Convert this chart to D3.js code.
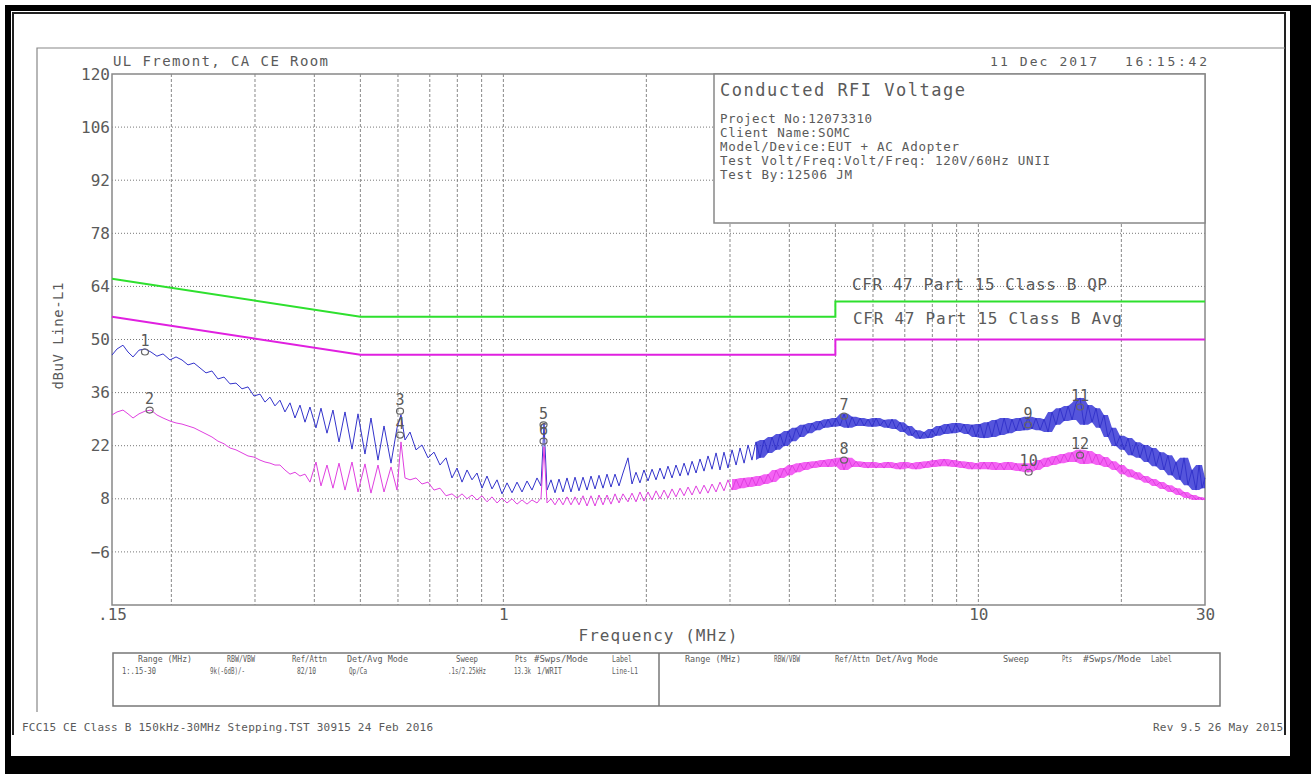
<!DOCTYPE html>
<html>
<head>
<meta charset="utf-8">
<script src="https://cdn.jsdelivr.net/npm/d3@7"></script>
<style>
  body { margin: 0; background: #fff; }
  svg text { font-family: "DejaVu Sans Mono", monospace; fill: #5a5a5a; }
</style>
</head>
<body>
<svg width="1311" height="774"></svg>
<script>
// ---- axis values ----
const yTicks   = [120, 106, 92, 78, 64, 50, 36, 22, 8, -6];
const gridDb   = [106, 92, 78, 64, 50, 36, 22, 8, -6];
const gridFreq = [0.2, 0.3, 0.4, 0.5, 0.6, 0.7, 0.8, 0.9, 1, 2, 3, 4, 5, 6, 7, 8, 9, 10, 20];
const xTickFreq  = [0.15, 1, 10, 30];
const xTickLabel = [".15", "1", "10", "30"];

// ---- limit lines (MHz, dBuV) ----
const qpLimit  = [[0.15, 66], [0.5, 56], [5, 56], [5, 60], [30, 60]];
const avgLimit = [[0.15, 56], [0.5, 46], [5, 46], [5, 50], [30, 50]];

const peakTrace = [
  [0.150,45.9],[0.1537,47.5],[0.1582,48.5],[0.1621,46.7],[0.1661,45.4],[0.1710,47.2],[0.1760,47.5],[0.1812,46.7],
  [0.1865,45.6],[0.1921,46.2],[0.1987,44.6],[0.2046,45.4],[0.2106,44.6],[0.2168,43.3],[0.2232,43.8],[0.2298,42.5],
  [0.2366,41.2],[0.2435,41.7],[0.2507,39.6],[0.2582,40.1],[0.2658,38.3],[0.2736,38.5],[0.2817,37.0],[0.2900,37.5],
  [0.2985,35.1],[0.3074,35.6],[0.3149,33.5],[0.3226,34.8],[0.3305,32.5],[0.3386,34.0],[0.3469,30.9],[0.3555,33.3],
  [0.3642,29.3],[0.3731,32.7],[0.3823,28.2],[0.3916,32.2],[0.4032,26.7],[0.4131,31.9],[0.4253,25.3],[0.4378,31.4],
  [0.4508,23.0],[0.4641,30.9],[0.4801,21.1],[0.4943,30.4],[0.5113,19.8],[0.5264,29.3],[0.5446,18.2],[0.5607,27.2],
  [0.5801,17.4],[0.5972,26.7],[0.6088,30.2],[0.6208,23.5],[0.6360,25.6],[0.6548,20.9],[0.6741,22.2],[0.6940,18.8],
  [0.7145,20.3],[0.7356,16.9],[0.7573,18.8],[0.7796,13.5],[0.7988,16.1],[0.8184,12.4],[0.8385,15.6],[0.8590,13.0],
  [0.8801,14.8],[0.9017,10.8],[0.9238,14.0],[0.9465,10.6],[0.9698,13.0],[0.9935,9.3],[1.0179,12.2],[1.0429,9.6],
  [1.0684,12.4],[1.0947,9.8],[1.1215,12.7],[1.1490,10.3],[1.1772,13.5],[1.2002,11.4],[1.2178,27.8],[1.2356,10.3],
  [1.2598,13.0],[1.2845,9.6],[1.3096,13.2],[1.3353,9.8],[1.3614,13.5],[1.3880,9.8],[1.4152,13.7],[1.4429,10.1],
  [1.4712,13.7],[1.5001,10.3],[1.5294,14.0],[1.5594,10.6],[1.5899,14.2],[1.6210,10.8],[1.6527,14.5],[1.6851,11.1],
  [1.7181,14.5],[1.7518,11.4],[1.7858,14.8],[1.8296,18.8],[1.8656,11.9],[1.9021,15.0],[1.939,12.2],[1.977,15.6],
  [2.016,12.7],[2.056,15.8],[2.096,13.0],[2.137,16.1],[2.179,13.2],[2.221,16.6],[2.265,13.5],[2.309,16.9],
  [2.355,14.0],[2.401,17.4],[2.448,14.2],[2.496,17.9],[2.545,14.8],[2.594,18.5],[2.645,15.3],[2.697,19.3],
  [2.750,15.8],[2.804,20.1],[2.858,15.6],[2.914,20.3],[2.971,16.1],[3.030,20.9],[3.090,16.9],[3.150,21.4],
  [3.212,17.4],[3.275,22.2],[3.337,18.2],[3.403,23.0],[3.470,18.8],[3.538,23.5],[3.607,20.1],[3.678,24.3],
  [3.750,20.9],[3.823,25.1],[3.898,21.9],[3.974,25.9],[4.053,23.2],[4.133,26.7],[4.213,24.3],[4.296,27.5],
  [4.380,25.3],[4.465,28.0],[4.553,26.1],[4.642,28.5],[4.733,26.7],[4.826,29.0],[4.919,27.0],[5.016,29.3],
  [5.115,27.2],[5.215,30.4],[5.317,26.7],[5.421,29.6],[5.528,27.2],[5.636,29.3],[5.746,27.2],[5.859,29.0],
  [5.974,27.0],[6.091,29.3],[6.210,27.2],[6.332,28.8],[6.456,26.7],[6.581,29.0],[6.710,26.4],[6.842,28.2],
  [6.976,25.6],[7.113,27.2],[7.249,24.6],[7.391,26.1],[7.538,23.8],[7.686,25.6],[7.836,24.0],[7.988,26.4],
  [8.145,24.6],[8.306,27.2],[8.469,25.1],[8.634,27.7],[8.800,25.3],[8.973,28.0],[9.151,25.6],[9.330,27.7],
  [9.513,25.1],[9.697,27.5],[9.886,24.3],[10.08,27.7],[10.28,24.0],[10.48,28.2],[10.68,24.3],[10.89,28.8],
  [11.11,24.8],[11.33,29.3],[11.55,25.3],[11.77,29.0],[12.00,25.9],[12.24,29.3],[12.48,26.1],[12.72,29.6],
  [12.97,26.4],[13.22,29.3],[13.49,26.1],[13.75,29.0],[14.02,25.6],[14.29,30.9],[14.57,27.5],[14.86,31.9],
  [15.15,28.5],[15.45,32.5],[15.75,28.8],[16.06,33.3],[16.37,34.6],[16.69,27.5],[17.02,32.7],[17.35,28.2],
  [17.69,31.9],[18.03,26.7],[18.38,30.1],[18.74,24.3],[19.11,26.7],[19.49,21.9],[19.87,24.6],[20.26,20.9],
  [20.66,24.0],[21.06,19.5],[21.48,22.9],[21.89,18.8],[22.32,22.2],[22.76,17.7],[23.21,21.4],[23.67,16.6],
  [24.12,20.3],[24.59,15.6],[25.07,19.5],[25.57,14.2],[26.07,17.7],[26.58,13.0],[27.10,18.8],[27.63,11.6],
  [28.17,15.6],[28.73,10.3],[29.15,16.9],[29.57,10.8],[30.0,13.5]
];

const avgTrace = [
  [0.150,30.1],[0.1537,30.9],[0.1582,31.4],[0.1621,30.4],[0.1661,29.3],[0.1710,30.4],[0.1760,31.1],[0.1812,31.4],
  [0.1865,30.1],[0.1921,29.3],[0.1987,28.5],[0.2046,28.0],[0.2106,27.7],[0.2168,27.2],[0.2232,26.7],[0.2298,25.9],
  [0.2366,25.1],[0.2435,24.3],[0.2507,23.2],[0.2582,22.5],[0.2658,21.4],[0.2736,20.9],[0.2817,20.1],[0.2900,19.3],
  [0.2985,19.0],[0.3074,18.2],[0.3149,17.7],[0.3226,17.4],[0.3305,16.9],[0.3386,16.9],[0.3469,15.6],[0.3555,14.5],
  [0.3642,15.0],[0.3731,14.0],[0.3823,14.5],[0.3916,12.4],[0.4032,17.7],[0.4131,11.4],[0.4253,16.9],[0.4378,10.8],
  [0.4508,17.4],[0.4641,10.3],[0.4801,17.7],[0.4943,9.8],[0.5113,17.2],[0.5264,9.5],[0.5446,16.9],[0.5607,9.8],
  [0.5801,16.4],[0.5972,10.3],[0.6088,23.0],[0.6208,13.5],[0.6360,13.0],[0.6548,13.5],[0.6741,11.9],[0.6940,12.4],
  [0.7145,10.3],[0.7356,10.8],[0.7573,8.8],[0.7796,9.3],[0.7988,8.2],[0.8184,9.3],[0.8385,8.0],[0.8590,9.0],
  [0.8801,7.7],[0.9017,8.8],[0.9238,7.2],[0.9465,8.5],[0.9698,6.9],[0.9935,8.2],[1.0179,6.9],[1.0429,8.0],
  [1.0684,6.6],[1.0947,7.7],[1.1215,6.6],[1.1490,7.7],[1.1772,6.9],[1.2002,8.2],[1.2178,21.7],[1.2356,6.9],
  [1.2598,8.0],[1.2845,6.4],[1.3096,8.2],[1.3353,6.4],[1.3614,8.5],[1.3880,6.4],[1.4152,8.5],[1.4429,6.4],
  [1.4712,8.8],[1.5001,6.1],[1.5294,8.8],[1.5594,6.1],[1.5899,9.0],[1.6210,6.4],[1.6527,9.0],[1.6851,6.6],
  [1.7181,9.3],[1.7518,6.9],[1.7858,9.3],[1.8296,7.2],[1.8656,9.5],[1.9021,7.2],[1.939,9.8],[1.977,7.4],
  [2.016,9.8],[2.056,7.7],[2.096,10.1],[2.137,8.0],[2.179,10.3],[2.221,8.2],[2.265,10.6],[2.309,8.5],
  [2.355,10.8],[2.401,8.8],[2.448,11.1],[2.496,9.0],[2.545,11.4],[2.594,9.3],[2.645,11.6],[2.697,9.5],
  [2.750,11.9],[2.804,9.8],[2.858,12.4],[2.914,10.1],[2.971,13.0],[3.030,10.3],[3.090,13.2],[3.150,10.8],
  [3.212,13.5],[3.275,11.1],[3.337,13.7],[3.403,11.4],[3.470,14.0],[3.538,11.9],[3.607,14.5],[3.678,12.4],
  [3.750,15.6],[3.823,13.5],[3.898,16.1],[3.974,14.2],[4.053,16.9],[4.133,15.0],[4.213,17.4],[4.296,15.6],
  [4.380,17.7],[4.465,16.1],[4.553,17.9],[4.642,16.4],[4.733,18.2],[4.826,16.4],[4.919,18.5],[5.016,16.6],
  [5.115,18.8],[5.215,15.6],[5.317,18.8],[5.421,16.4],[5.528,17.9],[5.636,16.4],[5.746,17.7],[5.859,16.1],
  [5.974,17.7],[6.091,16.1],[6.210,17.4],[6.332,16.1],[6.456,17.7],[6.581,16.1],[6.710,17.4],[6.842,15.8],
  [6.976,17.7],[7.113,16.1],[7.249,17.4],[7.391,15.8],[7.538,17.7],[7.686,16.1],[7.836,17.9],[7.988,16.4],
  [8.145,18.2],[8.306,16.6],[8.469,18.5],[8.634,16.6],[8.800,18.2],[8.973,16.4],[9.151,17.9],[9.330,16.1],
  [9.513,17.7],[9.697,15.8],[9.886,17.4],[10.08,15.8],[10.28,17.7],[10.48,15.8],[10.68,17.7],[10.89,15.6],
  [11.11,17.4],[11.33,15.6],[11.55,17.7],[11.77,15.6],[12.00,17.4],[12.24,15.3],[12.48,17.4],[12.72,15.0],
  [12.97,17.4],[13.22,15.6],[13.49,18.2],[13.75,16.4],[14.02,18.8],[14.29,16.9],[14.57,19.3],[14.86,17.4],
  [15.15,19.8],[15.45,17.7],[15.75,20.3],[16.06,17.7],[16.37,20.9],[16.69,17.2],[17.02,20.6],[17.35,17.4],
  [17.69,19.8],[18.03,16.9],[18.38,19.0],[18.74,16.4],[19.11,17.9],[19.49,15.6],[19.87,16.9],[20.26,14.5],
  [20.66,15.8],[21.06,13.7],[21.48,15.0],[21.89,13.0],[22.32,14.0],[22.76,12.2],[23.21,13.2],[23.67,11.4],
  [24.12,12.4],[24.59,10.6],[25.07,11.6],[25.57,9.8],[26.07,10.8],[26.58,9.0],[27.10,9.8],[27.63,8.2],
  [28.17,9.0],[28.73,7.7],[29.15,8.5],[29.57,7.7],[30.0,8.2]
];

// ---- markers ----
const markerLabel = ["1", "2", "3", "4", "5", "6", "7", "8", "9", "10", "11", "12"];
const markerFreq  = [0.176, 0.180, 0.606, 0.606, 1.215, 1.215, 5.215, 5.215, 12.72, 12.76, 16.37, 16.37];
const markerDb    = [46.7, 31.4, 31.1, 24.8, 27.5, 23.2, 29.8, 18.2, 27.5, 15.0, 32.2, 19.5];

// ---- texts ----
const siteText = "UL Fremont, CA CE Room";
const dateText = "11 Dec 2017";
const timeText = "16:15:42";
const infoTitle = "Conducted RFI Voltage";
const infoLines = ["Project No:12073310", "Client Name:SOMC", "Model/Device:EUT + AC Adopter",
                   "Test Volt/Freq:Volt/Freq: 120V/60Hz UNII", "Test By:12506 JM"];
const tableHeads = ["Range (MHz)", "RBW/VBW", "Ref/Attn", "Det/Avg Mode", "Sweep", "Pts", "#Swps/Mode", "Label"];
const tableVals  = ["1:.15-30", "9k(-6dB)/-", "82/10", "Qp/Ca", ".1s/2.25kHz", "13.3k", "1/WRIT", "Line-L1"];
const footLeft  = "FCC15 CE Class B 150kHz-30MHz Stepping.TST 30915 24 Feb 2016";
const footRight = "Rev 9.5 26 May 2015";

// ================= drawing =================
const svg = d3.select("svg");
const plot = {left: 112, right: 1205, top: 74, bottom: 605};

const x = d3.scaleLog().domain([0.15, 30]).range([plot.left, plot.right]);
const y = d3.scaleLinear().domain([-20, 120]).range([plot.bottom, plot.top]);

// page border (thick with shadow bottom/right)
svg.append("rect").attr("x", 5).attr("y", 5).attr("width", 1301).attr("height", 6).attr("fill", "#000");
svg.append("rect").attr("x", 5).attr("y", 5).attr("width", 6).attr("height", 769).attr("fill", "#000");
svg.append("rect").attr("x", 1290).attr("y", 5).attr("width", 21).attr("height", 769).attr("fill", "#000");
svg.append("rect").attr("x", 5).attr("y", 756).attr("width", 1306).attr("height", 18).attr("fill", "#000");

// chart image frame + window
svg.append("path").attr("d", "M13,735V13H1285V735").attr("fill", "none").attr("stroke", "#222").attr("stroke-width", 2);
svg.append("path").attr("d", "M37,712V48H1285").attr("fill", "none").attr("stroke", "#888").attr("stroke-width", 1.2);

// grid
svg.append("g").selectAll("line").data(gridFreq).enter().append("line")
  .attr("x1", d => x(d)).attr("x2", d => x(d))
  .attr("y1", plot.top).attr("y2", plot.bottom)
  .attr("stroke", "#888").attr("stroke-width", 1).attr("stroke-dasharray", "3,2");
svg.append("g").selectAll("line").data(gridDb).enter().append("line")
  .attr("x1", plot.left).attr("x2", plot.right)
  .attr("y1", d => y(d)).attr("y2", d => y(d))
  .attr("stroke", "#777").attr("stroke-width", 1).attr("stroke-dasharray", "1,2");

// plot frame
svg.append("rect").attr("x", plot.left).attr("y", plot.top)
  .attr("width", plot.right - plot.left).attr("height", plot.bottom - plot.top)
  .attr("fill", "none").attr("stroke", "#888").attr("stroke-width", 1.5);

// axes labels
const yAxis = svg.append("g").attr("transform", `translate(${plot.left},0)`)
  .call(d3.axisLeft(y).tickValues(yTicks).tickSize(0).tickPadding(2));
yAxis.select(".domain").remove();
yAxis.selectAll("text").style("font-size", "16px").attr("fill", "#666");

const xAxis = svg.append("g").attr("transform", `translate(0,${plot.bottom})`)
  .call(d3.axisBottom(x).tickValues(xTickFreq).tickFormat((d, i) => xTickLabel[i]).tickSize(0).tickPadding(4));
xAxis.select(".domain").remove();
xAxis.selectAll("text").style("font-size", "16px").attr("fill", "#666");

svg.append("text").attr("x", 658).attr("y", 641).attr("text-anchor", "middle")
  .style("font-size", "16px").attr("textLength", 159).text("Frequency (MHz)");
svg.append("text").attr("transform", "translate(63,336) rotate(-90)").attr("text-anchor", "middle")
  .style("font-size", "14px").attr("textLength", 107).text("dBuV Line-L1");

// header texts
svg.append("text").attr("x", 113).attr("y", 66).style("font-size", "14px").attr("textLength", 215).text(siteText);
svg.append("text").attr("x", 990).attr("y", 66).style("font-size", "13px").attr("textLength", 107).text(dateText);
svg.append("text").attr("x", 1125).attr("y", 66).style("font-size", "13px").attr("textLength", 82).text(timeText);

// info box
svg.append("rect").attr("x", 714).attr("y", plot.top).attr("width", plot.right - 714).attr("height", 149)
  .attr("fill", "#fff").attr("stroke", "#888").attr("stroke-width", 1.5);
svg.append("text").attr("x", 720).attr("y", 96).style("font-size", "17px").attr("textLength", 245).text(infoTitle);
const infoLens = [152, 130, 239, 330, 132];
infoLines.forEach((t, i) => {
  svg.append("text").attr("x", 720).attr("y", 123 + i * 14).style("font-size", "12.5px")
    .attr("textLength", infoLens[i]).text(t);
});

// limit lines
const line = d3.line().x(d => x(d[0])).y(d => y(d[1]));
svg.append("path").datum(qpLimit).attr("d", line).attr("fill", "none").attr("stroke", "#2ee02e").attr("stroke-width", 2);
svg.append("path").datum(avgLimit).attr("d", line).attr("fill", "none").attr("stroke", "#e020e0").attr("stroke-width", 2);
svg.append("text").attr("x", 852).attr("y", 290).style("font-size", "16px").attr("fill", "#8ede8e")
  .attr("textLength", 255).text("CFR 47 Part 15 Class B QP");
svg.append("text").attr("x", 853).attr("y", 324).style("font-size", "16px").attr("fill", "#e27ae2")
  .attr("textLength", 269).text("CFR 47 Part 15 Class B Avg");

// dense part of each sweep: shade the local min/max of neighbouring samples
function envelope(trace, fromMHz) {
  const out = [];
  trace.forEach((d, i) => {
    if (d[0] < fromMHz) return;
    const nb = trace.slice(Math.max(0, i - 1), i + 2).map(p => p[1]);
    out.push([d[0], d3.min(nb), d3.max(nb)]);
  });
  return out;
}
const band = d3.area().x(d => x(d[0])).y0(d => y(d[1])).y1(d => y(d[2]));
svg.append("path").datum(envelope(peakTrace, 3.4)).attr("d", band)
  .attr("fill", "#1c1cd0").attr("fill-opacity", 0.75);
svg.append("path").datum(envelope(avgTrace, 3.0)).attr("d", band)
  .attr("fill", "#f020f0").attr("fill-opacity", 0.7);

// traces
svg.append("path").datum(peakTrace).attr("d", line).attr("fill", "none")
  .attr("stroke", "#3434cc").attr("stroke-width", 1).attr("stroke-linejoin", "round");
svg.append("path").datum(avgTrace).attr("d", line).attr("fill", "none")
  .attr("stroke", "#e040e0").attr("stroke-width", 1).attr("stroke-linejoin", "round");

// markers
const mk = svg.append("g");
markerFreq.forEach((f, i) => {
  mk.append("ellipse").attr("cx", x(f)).attr("cy", y(markerDb[i])).attr("rx", 3.5).attr("ry", 3)
    .attr("fill", "none").attr("stroke", "#666").attr("stroke-width", 1.2);
  mk.append("text").attr("x", x(f)).attr("y", y(markerDb[i]) - 6).attr("text-anchor", "middle")
    .style("font-size", "15px").attr("fill", "#666").text(markerLabel[i]);
});

// settings table
const tbl = {left: 113, mid: 659, right: 1220, top: 653, bottom: 706};
svg.append("rect").attr("x", tbl.left).attr("y", tbl.top).attr("width", tbl.right - tbl.left)
  .attr("height", tbl.bottom - tbl.top).attr("fill", "none").attr("stroke", "#777").attr("stroke-width", 1.5);
svg.append("line").attr("x1", tbl.mid).attr("x2", tbl.mid).attr("y1", tbl.top).attr("y2", tbl.bottom)
  .attr("stroke", "#777").attr("stroke-width", 1.5);
const headLeftX  = [138, 227, 292, 347, 456, 515, 534, 612];
const headLeftW  = [54, 28, 35, 61, 22, 12, 54, 20];
const headRightX = [685, 774, 835, 876, 1003, 1062, 1083, 1151];
const headRightW = [56, 26, 35, 62, 26, 10, 58, 21];
const valX       = [122, 210, 297, 349, 448, 514, 537, 612];
const valW       = [34, 35, 19, 18, 38, 17, 25, 26];
tableHeads.forEach((t, i) => {
  svg.append("text").attr("x", headLeftX[i]).attr("y", 662).style("font-size", "8.5px")
    .attr("textLength", headLeftW[i]).attr("lengthAdjust", "spacingAndGlyphs").text(t);
  svg.append("text").attr("x", headRightX[i]).attr("y", 662).style("font-size", "8.5px")
    .attr("textLength", headRightW[i]).attr("lengthAdjust", "spacingAndGlyphs").text(t);
});
tableVals.forEach((t, i) => {
  svg.append("text").attr("x", valX[i]).attr("y", 674).style("font-size", "8.5px").attr("fill", "#3c3cdc")
    .attr("textLength", valW[i]).attr("lengthAdjust", "spacingAndGlyphs").text(t);
});

// footer
svg.append("text").attr("x", 22).attr("y", 731).style("font-size", "11px").attr("textLength", 411).text(footLeft);
svg.append("text").attr("x", 1283).attr("y", 731).attr("text-anchor", "end").style("font-size", "11px")
  .attr("textLength", 130).text(footRight);
</script>
</body>
</html>
